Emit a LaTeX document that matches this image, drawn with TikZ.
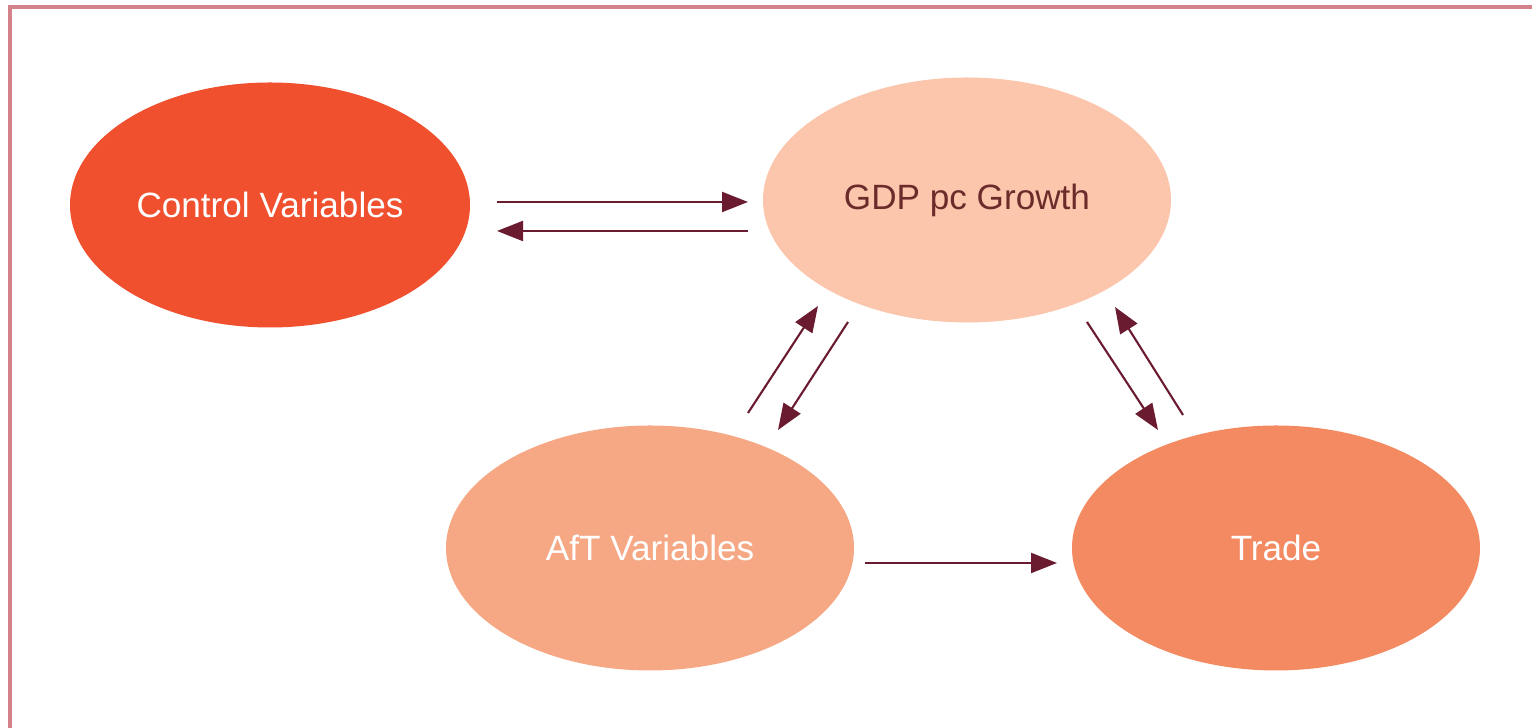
\documentclass[tikz,border=0pt]{standalone}
\usepackage{fontspec}
\usepackage{xcolor}
\usepackage{tikz}
\usetikzlibrary{shapes.geometric,arrows.meta}
\setmainfont{Liberation Sans}

\definecolor{ctrlred}{HTML}{F0502E}
\definecolor{gdppeach}{HTML}{FBC6AB}
\definecolor{aftsalmon}{HTML}{F5A883}
\definecolor{tradeorange}{HTML}{F48A62}
\definecolor{arrowwine}{HTML}{6A1B30}
\definecolor{gdptext}{HTML}{6B2B2B}
\definecolor{framepink}{HTML}{D4828A}

\tikzset{
  blob/.style={ellipse, minimum width=4.08cm, minimum height=2.45cm, inner sep=0pt, font=\fontsize{10}{12}\selectfont, text=white},
  flow/.style={draw=arrowwine, line width=0.6pt, -{Triangle[length=2.6mm,width=2mm]}}
}

\begin{document}
\begin{tikzpicture}
            \useasboundingbox (0,0) rectangle (15.32,7.28);
            \fill [white] (0,0) rectangle (15.32,7.28);
            \draw [framepink, line width=0.9pt] (0.10,0) -- (0.10,7.21) -- (15.32,7.21);
            % the four ellipses
            \node [blob, fill=ctrlred, minimum width=4.0cm] (ctrl) at (2.70,5.23) {Control Variables};
            \node [blob, fill=gdppeach, text=gdptext] (gdp) at (9.67,5.28) {GDP pc Growth};
            \node [blob, fill=aftsalmon] (aft) at (6.50,1.80) {AfT Variables};
            \node [blob, fill=tradeorange] (trade) at (12.76,1.80) {Trade};
            % arrows
            \draw [flow] ([shift={(2.27,0.03)}]ctrl.center) -- ([shift={(-2.19,-0.02)}]gdp.center);
            \draw [flow] ([shift={(-2.19,-0.31)}]gdp.center) -- ([shift={(2.27,-0.26)}]ctrl.center);
            \draw [flow] ([shift={(0.98,1.35)}]aft.center) -- ([shift={(-1.49,-1.06)}]gdp.center);
            \draw [flow] ([shift={(-1.19,-1.22)}]gdp.center) -- ([shift={(1.28,1.18)}]aft.center);
            \draw [flow] ([shift={(1.20,-1.22)}]gdp.center) -- ([shift={(-1.18,1.18)}]trade.center);
            \draw [flow] ([shift={(-0.93,1.33)}]trade.center) -- ([shift={(1.48,-1.07)}]gdp.center);
            \draw [flow] ([shift={(2.15,-0.15)}]aft.center) -- ([shift={(-2.19,-0.15)}]trade.center);
        \end{tikzpicture}
\end{document}
